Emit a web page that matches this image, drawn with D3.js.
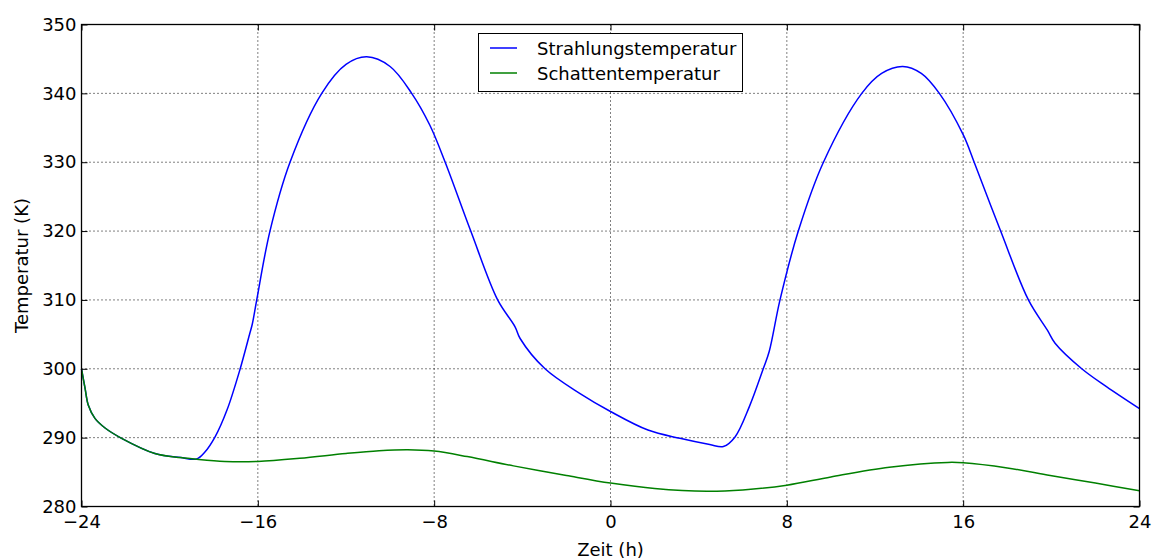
<!DOCTYPE html>
<html>
<head>
<meta charset="utf-8">
<script src="https://cdn.jsdelivr.net/npm/d3@7"></script>
<style>
  body { margin: 0; background: #fff; }
  text { font-family: "DejaVu Sans", sans-serif; }
</style>
</head>
<body>
<div class="chart"></div>
<script>
// time (h) and temperature (K)
var blueT = [-24, -23.84, -23.69, -23.39, -22.93, -22.18, -20.67, -19.5, -18.77, -18.4, -17.94, -17.4, -16.81, -16.36, -16.25, -16.05,
  -15.45, -14.54, -13.1, -12, -11.06, -10, -9.02, -8.2, -7.5, -6.34, -5.12, -4.33, -4.1, -2.97, -1.38, 0, 1.7, 3.15, 4.5, 5.12,
  5.65, 6.3, 6.93, 7.2, 7.69, 8.52, 9.66, 11.4, 12.3, 13.26, 14.1, 14.92, 16, 16.5, 17.7, 18.96, 19.82, 20.17, 21.38, 22.5, 24];
var blueK = [300, 297.2, 294.7, 292.8, 291.4, 289.9, 287.7, 287.1, 286.9, 287.9, 290.1, 294, 299.9, 305.2, 306.5, 310,
  320, 330, 340, 344.2, 345.3, 343.9, 340, 335.4, 330, 320, 310, 306.1, 304.4, 300, 296.4, 293.8, 291.1, 289.9, 289.0, 288.7,
  290.1, 294.5, 300, 302.5, 310, 320, 330, 340, 342.9, 343.9, 342.9, 340, 334, 330, 320, 310, 305.6, 303.7, 300, 297.4, 294.2];

var greenT = [-24, -23.84, -23.69, -23.39, -22.93, -22.18, -20.67, -19.5, -18.77, -17.5, -16, -14.1, -12, -10.5, -9.2, -8,
  -6.5, -4.4, -2, 0, 2, 4.37, 6, 8, 10, 12.65, 15.3, 16, 18, 19.95, 22, 24];
var greenK = [300, 297.2, 294.7, 292.8, 291.4, 289.9, 287.7, 287.1, 286.85, 286.55, 286.55, 287.0, 287.7, 288.1, 288.25, 288.05,
  287.25, 285.9, 284.5, 283.4, 282.6, 282.2, 282.4, 283.1, 284.3, 285.7, 286.4, 286.35, 285.6, 284.5, 283.4, 282.3];

var xTicks = [-24, -16, -8, 0, 8, 16, 24];
var yTicks = [280, 290, 300, 310, 320, 330, 340, 350];
var seriesNames = ['Strahlungstemperatur', 'Schattentemperatur'];
var seriesColors = ['#0000ff', '#008000'];

var margin = { top: 24.5, right: 19.5, bottom: 52.5, left: 81.5 };
var width = 1159 - margin.left - margin.right;
var height = 559 - margin.top - margin.bottom;

var svg = d3.select('.chart')
  .append('svg')
    .attr('width', 1159)
    .attr('height', 559)
  .append('g')
    .attr('transform', `translate(${margin.left}, ${margin.top})`);

var x = d3.scaleLinear().domain([-24, 24]).range([0, width]);
var y = d3.scaleLinear().domain([280, 350]).range([height, 0]);

// grid
var grid = svg.append('g').attr('class', 'grid');
grid.selectAll('.gx').data(xTicks.slice(1, -1)).enter().append('line')
  .attr('x1', d => x(d)).attr('x2', d => x(d))
  .attr('y1', 0).attr('y2', height);
grid.selectAll('.gy').data(yTicks.slice(1, -1)).enter().append('line')
  .attr('y1', d => y(d)).attr('y2', d => y(d))
  .attr('x1', 0).attr('x2', width);
grid.selectAll('line')
  .style('stroke', '#000')
  .style('stroke-width', 1)
  .style('stroke-dasharray', '1,3');

// lines
var line = d3.line()
  .x(d => x(d[0]))
  .y(d => y(d[1]))
  .curve(d3.curveCatmullRom.alpha(0.5));

var series = [d3.zip(blueT, blueK), d3.zip(greenT, greenK)];
series.forEach(function (s, i) {
  svg.append('path')
    .datum(s)
    .attr('d', line)
    .style('fill', 'none')
    .style('stroke', seriesColors[i])
    .style('stroke-width', 1.5);
});

// axes, ticks inside on all four sides
function styleAxis(g) {
  g.select('.domain').remove();
  g.selectAll('.tick line').style('stroke', '#000').style('stroke-width', 1);
  g.selectAll('.tick text').style('font-size', '18px').style('fill', '#000')
    .style('font-family', '"DejaVu Sans", sans-serif');
}

svg.append('g')
  .attr('transform', `translate(0, ${height})`)
  .call(d3.axisBottom(x).tickValues(xTicks).tickSize(-6).tickPadding(9).tickFormat(d3.format('d')))
  .call(styleAxis);
svg.append('g')
  .call(d3.axisLeft(y).tickValues(yTicks).tickSize(-6).tickPadding(5).tickFormat(d3.format('d')))
  .call(styleAxis);
svg.append('g')
  .call(d3.axisTop(x).tickValues(xTicks).tickSize(-6).tickFormat(''))
  .call(styleAxis);
svg.append('g')
  .attr('transform', `translate(${width}, 0)`)
  .call(d3.axisRight(y).tickValues(yTicks).tickSize(-6).tickFormat(''))
  .call(styleAxis);

svg.append('rect')
  .attr('width', width)
  .attr('height', height)
  .style('fill', 'none')
  .style('stroke', '#000')
  .style('stroke-width', 1.3);

// axis labels
svg.append('text')
  .attr('x', width / 2)
  .attr('y', height + 49)
  .attr('text-anchor', 'middle')
  .style('font-size', '18px')
  .text('Zeit (h)');

svg.append('text')
  .attr('transform', `translate(${28 - margin.left}, ${height / 2}) rotate(-90)`)
  .attr('text-anchor', 'middle')
  .style('font-size', '18px')
  .text('Temperatur (K)');

// legend
var legend = svg.append('g')
  .attr('transform', `translate(${478.5 - margin.left}, ${33.5 - margin.top})`);
legend.append('rect')
  .attr('width', 264)
  .attr('height', 58)
  .style('fill', '#fff')
  .style('stroke', '#000')
  .style('stroke-width', 1);
seriesNames.forEach(function (name, i) {
  legend.append('line')
    .attr('x1', 11.5).attr('x2', 38.5)
    .attr('y1', 14.5 + i * 25).attr('y2', 14.5 + i * 25)
    .style('stroke', seriesColors[i])
    .style('stroke-width', 1.5);
  legend.append('text')
    .attr('x', 58.5)
    .attr('y', 21.5 + i * 25)
    .style('font-size', '18px')
    .text(name);
});
</script>
</body>
</html>
